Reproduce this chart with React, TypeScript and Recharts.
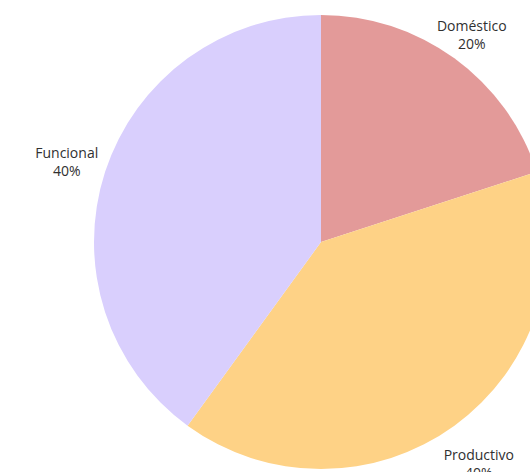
import { Cell, Pie, PieChart } from 'recharts'

const categories = ['Doméstico', 'Productivo', 'Funcional']
const shares = [20, 40, 40]
const colors = ['#E39A99', '#FED286', '#D9CFFD']

const data = categories.map((name, i) => ({ name, value: shares[i] }))

const RADIAN = Math.PI / 180
// small per-label nudges so the text boxes sit where the original placed them
const labelNudge = [
  [-2, 2],
  [5, 11],
  [-7, -1]
]

function renderLabel(props: any) {
  const { cx, cy, midAngle, outerRadius, index } = props
  const r = outerRadius + 33
  const x = cx + r * Math.cos(-midAngle * RADIAN) + labelNudge[index][0]
  const y = cy + r * Math.sin(-midAngle * RADIAN) + labelNudge[index][1]
  return (
    <text
      x={x}
      y={y}
      textAnchor="middle"
      dominantBaseline="central"
      fill="#303030"
      fontSize={14}
      fontWeight={500}
      fontFamily="'Open Sans', sans-serif"
    >
      <tspan x={x} dy={-9}>{categories[index]}</tspan>
      <tspan x={x} dy={18}>{`${shares[index]}%`}</tspan>
    </text>
  )
}

export default function App() {
  return (
    <div style={{ position: 'fixed', top: 0, left: 0, width: 530, height: 472, background: '#fff' }}>
      <PieChart width={530} height={472} margin={{ top: 0, right: 0, bottom: 0, left: 0 }}>
        <Pie
          data={data}
          dataKey="value"
          nameKey="name"
          cx={321}
          cy={242}
          outerRadius={227}
          startAngle={90}
          endAngle={-270}
          stroke="none"
          label={renderLabel}
          labelLine={false}
          isAnimationActive={false}
        >
          {data.map((d, i) => (
            <Cell key={d.name} fill={colors[i]} />
          ))}
        </Pie>
      </PieChart>
    </div>
  )
}
